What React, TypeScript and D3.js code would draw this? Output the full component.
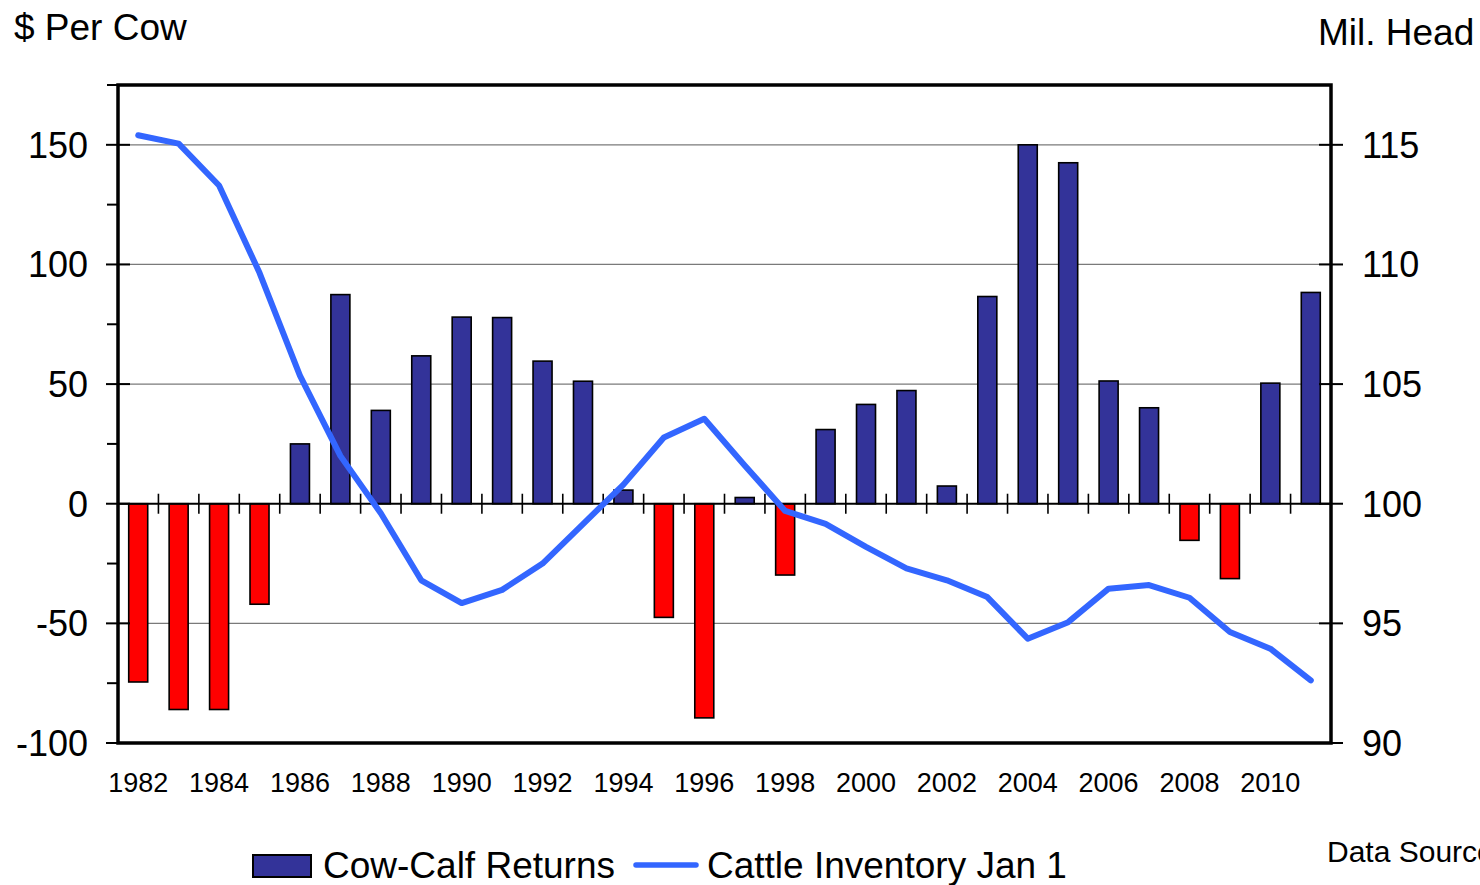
import { useEffect, useRef } from 'react';
import * as d3 from 'd3';

// Cow-calf returns ($ per cow) and Jan 1 cattle inventory (mil. head)
const years = [
  1982, 1983, 1984, 1985, 1986, 1987, 1988, 1989, 1990, 1991,
  1992, 1993, 1994, 1995, 1996, 1997, 1998, 1999, 2000, 2001,
  2002, 2003, 2004, 2005, 2006, 2007, 2008, 2009, 2010, 2011,
];
const returns = [
  -74.5, -86, -86, -42, 25, 87.4, 39, 61.8, 78, 77.8,
  59.6, 51.2, 5.7, -47.5, -89.5, 2.6, -29.8, 31, 41.5, 47.3,
  7.4, 86.6, 150, 142.5, 51.3, 40.1, -15.3, -31.3, 50.4, 88.3,
];
const inventory = [
  115.4, 115.05, 113.3, 109.65, 105.35, 102.0, 99.6, 96.8, 95.85, 96.4,
  97.5, 99.15, 100.8, 102.77, 103.55, 101.6, 99.7, 99.16, 98.2, 97.3,
  96.8, 96.1, 94.36, 95.05, 96.45, 96.6, 96.07, 94.64, 93.94, 92.62,
];
const leftTicks = [-100, -50, 0, 50, 100, 150];
const leftMinor = [-75, -25, 25, 75, 125, 175];
const rightTicks = [90, 95, 100, 105, 110, 115];
const yearLabels = [1982, 1984, 1986, 1988, 1990, 1992, 1994, 1996, 1998, 2000, 2002, 2004, 2006, 2008, 2010];

const FONT = '"Liberation Sans", Arial, sans-serif';

export default function App() {
  const ref = useRef<HTMLDivElement>(null);

  useEffect(() => {
    const width = 1480;
    const height = 885;
    const left = 118;
    const right = 1331;
    const top = 85;
    const bottom = 743;

    const x = d3.scaleBand<number>().domain(years).range([left, right]).padding(0);
    const yL = d3.scaleLinear().domain([-100, 175]).range([bottom, top]);
    const yR = d3.scaleLinear().domain([90, 117.5]).range([bottom, top]);
    const barW = x.bandwidth() * 0.47;

    const svg = d3
      .create('svg')
      .attr('width', width)
      .attr('height', height)
      .style('position', 'absolute')
      .style('left', '0px')
      .style('top', '0px')
      .style('background', '#fff')
      .style('font-family', FONT);

    // gridlines
    svg
      .append('g')
      .selectAll('line')
      .data(leftTicks.filter((d) => d !== 0 && d !== -100))
      .join('line')
      .attr('x1', left)
      .attr('x2', right)
      .attr('y1', (d) => yL(d))
      .attr('y2', (d) => yL(d))
      .attr('stroke', '#7a7a7a')
      .attr('stroke-width', 1.2);

    // bars
    svg
      .append('g')
      .selectAll('rect')
      .data(years)
      .join('rect')
      .attr('x', (d) => x(d)! + (x.bandwidth() - barW) / 2)
      .attr('width', barW)
      .attr('y', (_, i) => yL(Math.max(0, returns[i])))
      .attr('height', (_, i) => Math.abs(yL(returns[i]) - yL(0)))
      .attr('fill', (_, i) => (returns[i] < 0 ? '#ff0000' : '#333399'))
      .attr('stroke', '#000')
      .attr('stroke-width', 1.6);

    // zero line with category ticks
    svg
      .append('line')
      .attr('x1', left)
      .attr('x2', right)
      .attr('y1', yL(0))
      .attr('y2', yL(0))
      .attr('stroke', '#000')
      .attr('stroke-width', 1.8);
    svg
      .append('g')
      .selectAll('line')
      .data(years.slice(1))
      .join('line')
      .attr('x1', (d) => x(d)!)
      .attr('x2', (d) => x(d)!)
      .attr('y1', yL(0) - 10)
      .attr('y2', yL(0) + 10)
      .attr('stroke', '#000')
      .attr('stroke-width', 1.6);

    // inventory line
    const line = d3
      .line<number>()
      .x((_, i) => x(years[i])! + x.bandwidth() / 2)
      .y((d) => yR(d));
    svg
      .append('path')
      .attr('d', line(inventory))
      .attr('fill', 'none')
      .attr('stroke', '#3366ff')
      .attr('stroke-width', 6)
      .attr('stroke-linejoin', 'round')
      .attr('stroke-linecap', 'round');

    // frame
    svg
      .append('rect')
      .attr('x', left)
      .attr('y', top)
      .attr('width', right - left)
      .attr('height', bottom - top)
      .attr('fill', 'none')
      .attr('stroke', '#000')
      .attr('stroke-width', 3.5);

    // left axis ticks
    svg
      .append('g')
      .selectAll('line')
      .data(leftTicks)
      .join('line')
      .attr('x1', left - 12)
      .attr('x2', left + 12)
      .attr('y1', (d) => yL(d))
      .attr('y2', (d) => yL(d))
      .attr('stroke', '#000')
      .attr('stroke-width', 2);
    svg
      .append('g')
      .selectAll('line')
      .data(leftMinor)
      .join('line')
      .attr('x1', left - 11)
      .attr('x2', left)
      .attr('y1', (d) => yL(d))
      .attr('y2', (d) => yL(d))
      .attr('stroke', '#000')
      .attr('stroke-width', 2);
    svg
      .append('g')
      .selectAll('text')
      .data(leftTicks)
      .join('text')
      .attr('x', 88)
      .attr('y', (d) => yL(d) + 13)
      .attr('text-anchor', 'end')
      .attr('font-size', 36)
      .text((d) => String(d));

    // right axis ticks
    svg
      .append('g')
      .selectAll('line')
      .data(rightTicks)
      .join('line')
      .attr('x1', right - 12)
      .attr('x2', right + 12)
      .attr('y1', (d) => yR(d))
      .attr('y2', (d) => yR(d))
      .attr('stroke', '#000')
      .attr('stroke-width', 2);
    svg
      .append('g')
      .selectAll('text')
      .data(rightTicks)
      .join('text')
      .attr('x', 1362)
      .attr('y', (d) => yR(d) + 13)
      .attr('font-size', 36)
      .text((d) => String(d));

    // year labels
    svg
      .append('g')
      .selectAll('text')
      .data(yearLabels)
      .join('text')
      .attr('x', (d) => x(d)! + x.bandwidth() / 2)
      .attr('y', 792)
      .attr('text-anchor', 'middle')
      .attr('font-size', 27)
      .text((d) => String(d));

    // axis titles
    svg.append('text').attr('x', 14).attr('y', 40).attr('font-size', 37).text('$ Per Cow');
    svg.append('text').attr('x', 1318).attr('y', 45).attr('font-size', 37).text('Mil. Head');

    // legend
    const lg = svg.append('g');
    lg.append('rect')
      .attr('x', 253)
      .attr('y', 855)
      .attr('width', 58)
      .attr('height', 22)
      .attr('fill', '#333399')
      .attr('stroke', '#000')
      .attr('stroke-width', 2);
    lg.append('text').attr('x', 323).attr('y', 878).attr('font-size', 37).text('Cow-Calf Returns');
    lg.append('line')
      .attr('x1', 636)
      .attr('x2', 696)
      .attr('y1', 865)
      .attr('y2', 865)
      .attr('stroke', '#3366ff')
      .attr('stroke-width', 5.5)
      .attr('stroke-linecap', 'round');
    lg.append('text').attr('x', 707).attr('y', 878).attr('font-size', 37).text('Cattle Inventory Jan 1');

    // source note runs off the right edge, as in the original slide
    svg.append('text').attr('x', 1327).attr('y', 862).attr('font-size', 30).text('Data Source');

    ref.current?.appendChild(svg.node()!);
    return () => {
      svg.remove();
    };
  }, []);

  return <div ref={ref}></div>;
}
